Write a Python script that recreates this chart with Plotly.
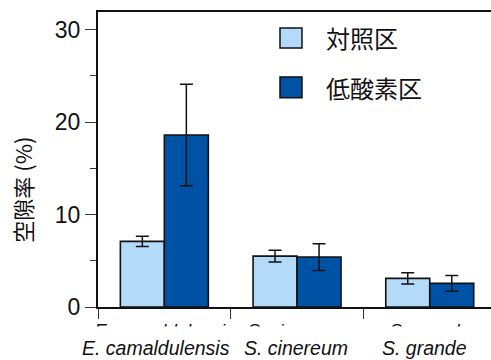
import plotly.graph_objects as go

# Species (x categories) and group means / standard errors (%)
species = ["E. camaldulensis", "S. cinereum", "S. grande"]
control_mean = [7.1, 5.5, 3.1]
control_err = [0.55, 0.63, 0.6]
hypoxia_mean = [18.6, 5.4, 2.55]
hypoxia_err = [5.5, 1.45, 0.85]
group_names = ["対照区", "低酸素区"]
colors = ["#B4DAFA", "#0052A4"]

y_ticks = [0, 10, 20, 30]

latin = "Liberation Sans, Arial, sans-serif"
cjk = "Noto Sans CJK JP, Liberation Sans, sans-serif"

fig = go.Figure()
for name, mean, err, col in [
    (group_names[0], control_mean, control_err, colors[0]),
    (group_names[1], hypoxia_mean, hypoxia_err, colors[1]),
]:
    fig.add_trace(go.Bar(
        x=species, y=mean, name=name,
        marker=dict(color=col, line=dict(color="#111111", width=1.6)),
        error_y=dict(type="data", array=err, visible=True,
                     color="#111111", thickness=1.5, width=6.5),
        showlegend=False,
    ))

# pixel geometry of the plotting area
plot_left, plot_right = 98, 491
plot_top, plot_bottom = 12, 307.5
cat_px = 132.7
x_max = -0.5 + (plot_right - plot_left) / cat_px

fig.update_layout(
    width=491, height=360,
    margin=dict(l=98, r=0, t=12, b=52.5, autoexpand=False),
    paper_bgcolor="white", plot_bgcolor="white",
    barmode="group", bargap=0.337, bargroupgap=0,
    font=dict(family=latin, color="#111111"),
    xaxis=dict(
        range=[-0.5, x_max], showline=True, linecolor="#111111", linewidth=2,
        mirror=True, ticks="outside", tickson="boundaries", ticklen=10,
        tickwidth=1.2, tickcolor="#333333", showgrid=False, zeroline=False,
        automargin=False, tickangle=0, ticklabelstandoff=6,
        tickfont=dict(size=18.5, family=latin, style="italic"),
    ),
    yaxis=dict(
        range=[0, 31.9], tickvals=y_ticks, showline=True, linecolor="#111111",
        linewidth=2, ticks="outside", ticklen=11, tickwidth=1.2,
        tickcolor="#333333", showgrid=False, zeroline=False, automargin=False,
        tickfont=dict(size=23, family=latin),
        minor=dict(tickvals=[5, 15, 25], ticks="outside", ticklen=6,
                   tickwidth=1.2, tickcolor="#333333", showgrid=False),
    ),
)

w = plot_right - plot_left
h = plot_bottom - plot_top
def px_x(px):
    return (px - plot_left) / w
def px_y(py):
    return (plot_bottom - py) / h

shapes = []
# white band over the lower part of the axis tick labels
shapes.append(dict(type="rect", xref="paper", yref="paper",
                   x0=-0.3, x1=1.1, y0=-0.5, y1=px_y(327),
                   fillcolor="white", line=dict(width=0), layer="above"))

# legend swatches
legend_rows = [(28, 48), (77, 98)]
for (top, bot), col in zip(legend_rows, colors):
    shapes.append(dict(type="rect", xref="paper", yref="paper",
                       x0=px_x(280), x1=px_x(302), y0=px_y(bot), y1=px_y(top),
                       fillcolor=col, line=dict(color="#111111", width=1.5)))
fig.update_layout(shapes=shapes)

annotations = []
for (top, bot), name in zip(legend_rows, group_names):
    annotations.append(dict(xref="paper", yref="paper", x=px_x(324),
                            y=px_y((top + bot) / 2), text=name, showarrow=False,
                            xanchor="left", yanchor="middle",
                            font=dict(size=24, family=cjk, color="#111111")))

# species labels below the axis
label_px = [156, 295.5, 424]
for sp, px in zip(species, label_px):
    annotations.append(dict(xref="paper", yref="paper", x=px_x(px),
                            y=px_y(349), text=sp, showarrow=False,
                            xanchor="center", yanchor="middle",
                            font=dict(size=19.5, family=latin, style="italic",
                                      color="#111111")))

# y-axis title
annotations.append(dict(xref="paper", yref="paper", x=px_x(22), y=px_y(190),
                        text="空隙率 (%)", textangle=-90, showarrow=False,
                        xanchor="center", yanchor="middle",
                        font=dict(size=22, family=cjk, color="#111111")))
fig.update_layout(annotations=annotations)

fig.write_html("out.html")
